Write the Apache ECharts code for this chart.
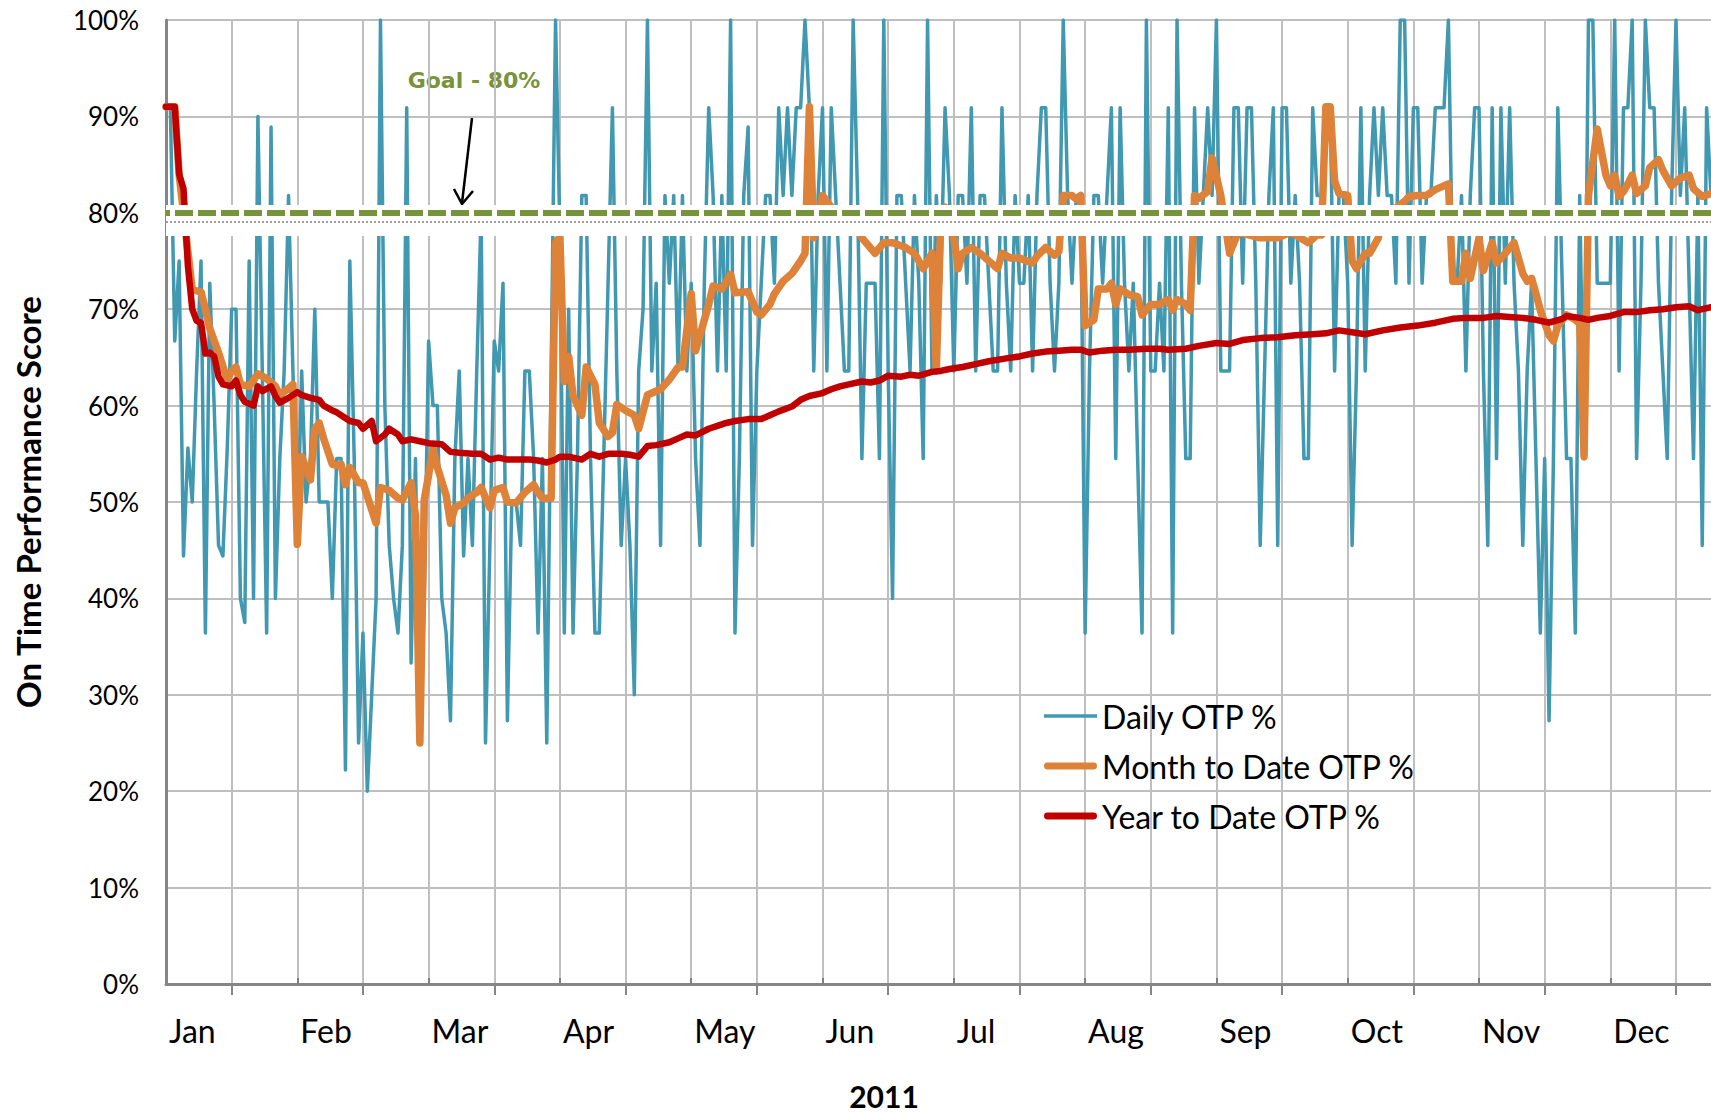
<!DOCTYPE html>
<html>
<head>
<meta charset="utf-8">
<script src="https://cdn.jsdelivr.net/npm/echarts@6/dist/echarts.min.js"></script>
<style>
  html, body { margin: 0; padding: 0; background: #ffffff; }
  #chart-otp { width: 1711px; height: 1113px; }
</style>
</head>
<body>
<div id="chart-otp"></div>
<script>
(function() {
  var blue = '#4198B1';
  var orange = '#DD8238';
  var red = '#C00000';
  var goalGreen = '#77933C';
  var grid = '#BFBFBF';
  var axisGray = '#868686';
  var ink = '#000000';

  // x axis: one category per day, month names every 30 points
  var monthLabels = ['Jan', 'Feb', 'Mar', 'Apr', 'May', 'Jun', 'Jul', 'Aug', 'Sep', 'Oct', 'Nov', 'Dec'];
  var yTicks = [0, 10, 20, 30, 40, 50, 60, 70, 80, 90, 100];
  var goalValue = 80;

  // Daily OTP % (one value per day)
  var dailyOtp = [
    90.9, 90.9, 66.7, 75, 44.4, 55.6, 50, 63.6, 75, 36.4,
    72.7, 60, 45.5, 44.4, 55.6, 70, 70, 40, 37.5, 75,
    40, 90, 63.6, 36.4, 88.9, 40, 54.5, 63.6, 81.8, 63.6,
    45.5, 63.6, 50, 54.5, 70, 50, 50, 50, 40, 54.5,
    54.5, 22.2, 75, 54.5, 25, 36.4, 20, 30, 40, 100,
    60, 45.5, 40, 36.4, 45.5, 90.9, 33.3, 54.5, 25, 40,
    66.7, 60, 60, 40, 36.4, 27.3, 54.5, 63.6, 44.4, 54.5,
    45.5, 63.6, 80, 25, 45.5, 66.7, 63.6, 72.7, 27.3, 50,
    50, 45.5, 63.6, 63.6, 54.5, 36.4, 54.5, 25, 63.6, 100,
    77.8, 36.4, 70, 36.4, 54.5, 81.8, 81.8, 54.5, 36.4, 36.4,
    54.5, 72.7, 90.9, 63.6, 45.5, 54.5, 45.5, 30, 63.6, 70,
    100, 63.6, 72.7, 45.5, 81.8, 72.7, 81.8, 63.6, 81.8, 63.6,
    72.7, 54.5, 45.5, 72.7, 90.9, 81.8, 63.6, 81.8, 63.6, 100,
    36.4, 54.5, 81.8, 88.9, 45.5, 63.6, 72.7, 81.8, 81.8, 72.7,
    90.9, 81.8, 90.9, 81.8, 90.9, 90.9, 100, 90.9, 63.6, 81.8,
    90.9, 63.6, 90.9, 81.8, 72.7, 63.6, 63.6, 100, 81.8, 54.5,
    72.7, 72.7, 72.7, 54.5, 100, 63.6, 40, 81.8, 81.8, 72.7,
    63.6, 81.8, 72.7, 54.5, 100, 63.6, 81.8, 72.7, 90.9, 81.8,
    63.6, 81.8, 81.8, 72.7, 90.9, 63.6, 81.8, 81.8, 72.7, 63.6,
    63.6, 90.9, 72.7, 63.6, 81.8, 72.7, 72.7, 81.8, 63.6, 81.8,
    90.9, 90.9, 72.7, 63.6, 72.7, 100, 81.8, 72.7, 81.8, 81.8,
    36.4, 63.6, 81.8, 81.8, 72.7, 81.8, 90.9, 54.5, 90.9, 72.7,
    63.6, 72.7, 54.5, 36.4, 100, 63.6, 63.6, 72.7, 63.6, 90.9,
    36.4, 100, 72.7, 54.5, 54.5, 90.9, 72.7, 81.8, 90.9, 81.8,
    100, 63.6, 63.6, 63.6, 90.9, 90.9, 72.7, 90.9, 90.9, 72.7,
    45.5, 63.6, 81.8, 90.9, 45.5, 90.9, 90.9, 72.7, 81.8, 72.7,
    54.5, 54.5, 90.9, 81.8, 81.8, 90.9, 90.9, 63.6, 81.8, 81.8,
    72.7, 45.5, 63.6, 90.9, 63.6, 81.8, 90.9, 81.8, 90.9, 81.8,
    81.8, 72.7, 100, 100, 72.7, 90.9, 90.9, 72.7, 81.8, 81.8,
    90.9, 90.9, 90.9, 100, 72.7, 72.7, 81.8, 63.6, 81.8, 90.9,
    90.9, 63.6, 45.5, 90.9, 54.5, 90.9, 72.7, 90.9, 72.7, 63.6,
    45.5, 63.6, 72.7, 54.5, 36.4, 54.5, 27.3, 54.5, 90.9, 72.7,
    54.5, 54.5, 36.4, 81.8, 54.5, 100, 100, 72.7, 72.7, 72.7,
    72.7, 100, 63.6, 90.9, 90.9, 100, 54.5, 72.7, 100, 90.9,
    90.9, 72.7, 63.6, 54.5, 81.8, 100, 81.8, 90.9, 72.7, 54.5,
    81.8, 45.5, 90.9, 81.8
  ];

  // Month to Date OTP % (read at the days below)
  var mtdDays = [
    0, 2, 3, 4, 6, 8, 9, 10, 12, 14, 15, 16, 17, 19, 21, 23, 25, 26, 28, 29,
    30, 31, 32, 33, 34, 35, 36, 38, 39, 40, 41, 42, 44, 45, 48, 49, 51, 53, 54, 56, 57,
    58, 59, 60, 61, 62, 64, 65, 66, 68, 69, 71, 72, 74, 75, 77, 78, 80, 82, 84, 85, 86, 88,
    89, 90, 91, 92, 93, 95, 96, 98, 99, 101, 102, 103, 105, 107, 108, 110, 113, 115, 117, 118,
    120, 121, 124, 125, 127, 129, 130, 133, 135, 136, 138, 139, 141, 143, 145, 146,
    147, 148, 150, 152, 154, 157, 159, 162, 164, 166, 169, 171, 173, 175,
    176, 177, 178, 180, 181, 182, 184, 186, 188, 190, 191, 193, 195, 198, 199, 201, 203, 204,
    205, 207, 208, 209, 210, 212, 213, 215, 216, 217, 218, 220, 222, 223, 225, 227, 229, 230, 231, 233, 234,
    235, 236, 238, 239, 241, 243, 245, 250, 254, 257, 261, 263, 264,
    265, 266, 267, 268, 270, 271, 272,
    274, 275, 277, 278, 281, 283, 284, 286, 288, 290, 293,
    294, 296, 297, 298, 300, 301, 303, 304, 306, 308, 310, 311, 312, 313, 314, 316, 317, 318, 320, 322, 323,
    324, 325, 327, 329, 330, 331, 332, 333, 334, 335, 336, 338, 339, 341, 342, 344, 346, 348, 349, 351, 353
  ];
  var mtdValues = [
    91, 91, 84, 80, 72, 71.8, 70, 68, 65.5, 62.7, 63.6, 64, 62.2, 62, 63.3, 62.8, 62, 61.1, 61.8, 62.2,
    45.6, 54.7, 53.5, 52.3, 57.6, 58.2, 56.6, 53.9, 53.8, 53.9, 51.8, 53.6, 52, 52, 47.8, 51.5, 51.2, 50.4, 50.2, 52, 48.6,
    25, 50.2, 52.8, 55.5, 53.6, 50.7, 47.8, 49.4, 49.9, 50.4, 51, 51.5, 49.4, 51.2, 51.5, 50, 49.9, 51, 51.8, 51, 50.4, 50.4,
    76.9, 77.5, 62.5, 65.1, 61, 59, 64, 62.2, 58.2, 56.8, 57.2, 60.1, 59.5, 59, 57.6, 61.1, 61.7, 62.7, 64, 64,
    71.6, 65.7, 70.5, 72.4, 72.1, 73.6, 71.7, 71.8, 69.7, 69.4, 70.5, 71.6, 72.9, 73.7, 75, 75.8,
    91, 77.4, 81.8, 80.6, 79.5, 79, 77.4, 75.8, 76.9, 76.9, 76.4, 75.8, 74.2, 75.8,
    63.6, 79, 80.6, 77.4, 74.2, 75.8, 76.4, 75.8, 75, 74.2, 75.8, 75.3, 75.3, 74.8, 75.5, 76.4, 75.6, 76,
    81.8, 81.8, 81.4, 81.8, 68.3, 68.9, 72.1, 72.1, 72.7, 70.5, 72.1, 71.5, 71.3, 69.4, 70.5, 70.5, 71, 69.9, 71, 70.5, 69.9,
    81.8, 81.5, 82.2, 85.7, 81.8, 75.8, 78, 77.4, 77.4, 78, 76.9, 77.7, 77.7,
    91, 91, 83.3, 82, 81.8, 75, 74.2,
    75.8, 75.8, 77.4, 80, 80.5, 81.2, 81.7, 81.8, 81.8, 82.4, 83,
    72.9, 72.9, 75.8, 73.2, 77.4, 74, 76.9, 74.8, 75.8, 76.9, 73.7, 72.9, 73.2, 71.6, 69.9, 67.3, 66.7, 68.3, 69.4, 68.9, 68.5,
    54.7, 81.8, 88.7, 83.9, 82.8, 83.9, 81.7, 82.2, 83, 83.9, 82, 82.8, 84.7, 85.5, 84.4, 82.8, 83.6, 83.9, 82.5, 81.7, 82
  ];

  // Year to Date OTP % (read at the days below)
  var ytdDays = [
    0, 2, 3, 4, 5, 6, 7, 8, 9, 10, 11, 12, 13, 15, 16, 17, 18, 20, 21, 22, 24, 25, 26, 28,
    30, 31, 33, 35, 36, 38, 39, 40, 42, 44, 45, 47, 48, 50, 51, 53, 54, 56, 58, 60, 63, 65, 67,
    70, 72, 74, 76, 78, 80, 83, 85, 87, 89, 90, 92, 95, 97, 99, 101, 104, 106, 108, 110, 112,
    115, 117, 119, 121, 124, 126, 128, 130, 133, 136, 138, 140, 143, 145, 147, 150, 152, 154,
    156, 159, 161, 163, 165, 168, 170, 172, 175, 177, 179, 182, 185, 188, 192, 195, 198, 201,
    204, 207, 209, 211, 214, 217, 220, 224, 227, 229, 233, 236, 240, 243, 246, 250, 254, 258,
    262, 265, 268, 271, 274, 278, 282, 286, 290, 294, 297, 301, 304, 307, 310, 313, 316, 319,
    320, 323, 325, 327, 330, 333, 336, 339, 342, 345, 348, 350, 353
  ];
  var ytdValues = [
    91, 91, 84, 82.5, 74.5, 70, 68.8, 68.6, 65.4, 65.5, 65.1, 63, 62.2, 62, 62.6, 61.1, 60.4, 60, 62, 61.5, 62, 61, 60.3, 60.8,
    61.4, 61.1, 60.8, 60.6, 60, 59.5, 59.3, 59, 58.4, 58.2, 57.6, 58.4, 56.3, 57, 57.6, 57, 56.3, 56.5, 56.3, 56.1, 56, 55.2, 55.1,
    55, 55, 54.4, 54.6, 54.4, 54.4, 54.4, 54.3, 54.1, 54.4, 54.7, 54.7, 54.4, 55, 54.7, 55, 55, 54.9, 54.7, 55.8, 55.9,
    56.2, 56.6, 57, 56.9, 57.6, 57.9, 58.2, 58.4, 58.6, 58.6, 59, 59.4, 59.9, 60.6, 61, 61.3, 61.7, 62,
    62.2, 62.5, 62.4, 62.6, 63.1, 63, 63.2, 63.1, 63.5, 63.6, 63.8, 64, 64.3, 64.6, 64.9, 65.1, 65.4, 65.6,
    65.7, 65.8, 65.8, 65.5, 65.7, 65.8, 65.8, 65.9, 65.9, 65.8, 65.9, 66.2, 66.5, 66.4, 66.8, 67, 67.1, 67.3,
    67.4, 67.5, 67.8, 67.6, 67.4, 67.8, 68.1, 68.3, 68.6, 69, 69.1, 69.1, 69.3, 69.2, 69.1, 68.9, 68.6, 69,
    69.3, 69.1, 68.9, 69.1, 69.3, 69.7, 69.7, 69.9, 70, 70.2, 70.3, 69.9, 70.2
  ];

  var dayCats = dailyOtp.map(function(v, i) { return String(i + 1); });

  function spread(days, values) {
    var out = dayCats.map(function() { return null; });
    days.forEach(function(d, i) { out[d] = values[i]; });
    return out;
  }
  var mtdSeries = spread(mtdDays, mtdValues);
  var ytdSeries = spread(ytdDays, ytdValues);

  // legend swatches: plain strokes, thin for daily, thick for the running averages
  var thinIcon = 'path://M0,0H53V3.5H0Z';
  var thickIcon = 'path://M3,0H50A3,3 0 0 1 50,7H3A3,3 0 0 1 3,0Z';

  var el = document.getElementById('chart-otp');
  var chart = echarts.init(el, null, { renderer: 'svg' });
  chart.setOption({
    animation: false,
    backgroundColor: '#ffffff',
    textStyle: { fontFamily: 'Lato, sans-serif' },
    grid: { left: 166, right: 0, top: 20, bottom: 129, outerBoundsMode: 'none', containLabel: false },
    legend: {
      data: [
        { name: 'Daily OTP %', icon: thinIcon },
        { name: 'Month to Date OTP %', icon: thickIcon },
        { name: 'Year to Date OTP %', icon: thickIcon }
      ],
      orient: 'vertical',
      left: 1039,
      top: 695,
      itemWidth: 53,
      itemHeight: 14,
      itemGap: 18,
      selectedMode: false,
      textStyle: { color: ink, fontSize: 32, fontFamily: 'Lato, sans-serif' }
    },
    xAxis: [
      {
        type: 'category',
        data: dayCats,
        boundaryGap: false,
        axisLine: { lineStyle: { color: axisGray, width: 3 } },
        axisTick: {
          show: true,
          length: 11,
          interval: function(i) { return i % 30 === 15; },
          lineStyle: { color: axisGray, width: 2 }
        },
        axisLabel: {
          interval: function(i) { return i % 30 === 0; },
          formatter: function(v, i) { return i % 30 === 0 ? monthLabels[i / 30] : ''; },
          align: 'left',
          padding: [0, 0, 0, 3],
          margin: 30,
          color: ink,
          fontSize: 32,
          fontFamily: 'Lato, sans-serif'
        },
        splitLine: {
          show: true,
          interval: function(i) { return i % 15 === 0 && i > 0; },
          lineStyle: { color: grid, width: 2 }
        }
      },
      {
        type: 'category',
        data: dayCats,
        boundaryGap: false,
        position: 'bottom',
        axisLine: { show: false },
        axisTick: {
          show: true,
          inside: true,
          length: 6,
          interval: function(i) { return i % 30 === 0 && i > 0; },
          lineStyle: { color: '#7F7F7F', width: 2 }
        },
        axisLabel: { show: false },
        splitLine: { show: false }
      }
    ],
    yAxis: {
      type: 'value',
      min: yTicks[0],
      max: yTicks[yTicks.length - 1],
      interval: yTicks[1] - yTicks[0],
      name: 'On Time Performance Score',
      nameLocation: 'middle',
      nameRotate: 90,
      nameGap: 122,
      nameTextStyle: { color: ink, fontSize: 33, fontWeight: 'bold', fontFamily: 'Lato, sans-serif' },
      axisLine: { show: true, lineStyle: { color: axisGray, width: 3 } },
      axisTick: { show: false },
      axisLabel: {
        formatter: '{value}%',
        color: ink,
        fontSize: 26,
        margin: 27,
        fontFamily: 'Lato, sans-serif'
      },
      splitLine: { lineStyle: { color: grid, width: 2 } }
    },
    series: [
      {
        name: 'Daily OTP %',
        type: 'line',
        data: dailyOtp,
        symbol: 'none',
        z: 2,
        lineStyle: { color: blue, width: 3.5, join: 'round' },
        itemStyle: { color: blue }
      },
      {
        name: 'Month to Date OTP %',
        type: 'line',
        data: mtdSeries,
        connectNulls: true,
        symbol: 'none',
        z: 3,
        lineStyle: { color: orange, width: 7.5, join: 'round', cap: 'round' },
        itemStyle: { color: orange }
      },
      {
        name: 'Year to Date OTP %',
        type: 'line',
        data: ytdSeries,
        connectNulls: true,
        symbol: 'none',
        z: 4,
        lineStyle: { color: red, width: 6.5, join: 'round', cap: 'round' },
        itemStyle: { color: red }
      },
      {
        name: 'Goal',
        type: 'line',
        data: [],
        silent: true,
        markArea: {
          silent: true,
          z: 10,
          itemStyle: { color: '#ffffff', borderWidth: 0 },
          label: { show: false },
          data: [[{ yAxis: goalValue - 2.4 }, { yAxis: goalValue + 0.8 }]]
        },
        markLine: {
          silent: true,
          z: 11,
          symbol: 'none',
          label: { show: false },
          data: [
            { yAxis: goalValue, lineStyle: { color: goalGreen, width: 6, type: [18, 5], dashOffset: 14 } },
            { yAxis: goalValue - 0.95, lineStyle: { color: '#7F7F7F', width: 1.5, type: [2, 2] } }
          ]
        }
      }
    ],
    graphic: [
      {
        type: 'text',
        x: 474,
        y: 80,
        style: {
          text: 'Goal - 80%', fill: goalGreen, align: 'center', verticalAlign: 'middle',
          font: 'bold 22px "DejaVu Sans", Verdana, sans-serif'
        }
      },
      {
        type: 'line',
        shape: { x1: 472, y1: 118, x2: 462, y2: 203 },
        style: { stroke: ink, lineWidth: 2.5 }
      },
      {
        type: 'polyline',
        shape: { points: [[454, 189], [462, 204], [473, 191]] },
        style: { stroke: ink, lineWidth: 2.5, fill: null }
      },
      {
        type: 'text',
        x: 884,
        y: 1096,
        style: {
          text: '2011', fill: ink, align: 'center', verticalAlign: 'middle',
          lineHeight: 30, font: 'bold 30px Lato, sans-serif'
        }
      }
    ]
  });
  window.addEventListener('resize', function() { chart.resize(); });
})();
</script>
</body>
</html>
